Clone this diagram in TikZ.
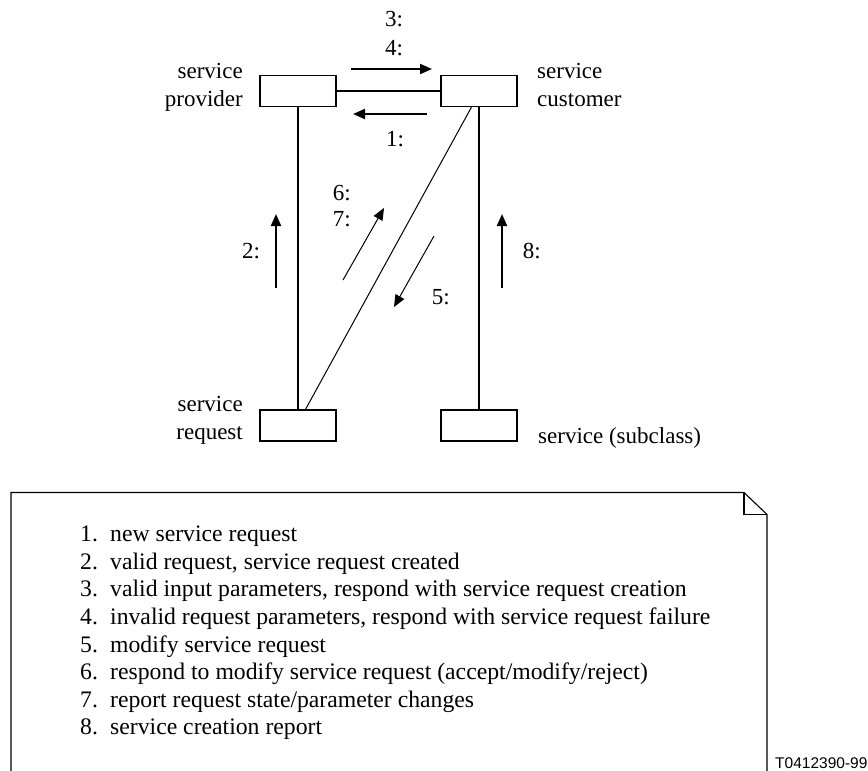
\documentclass[tikz,border=0pt]{standalone}
\usepackage{fontspec}
\setmainfont{Liberation Serif}
\newfontfamily\figsans{Liberation Sans}
\usetikzlibrary{arrows.meta}
\begin{document}
\begin{tikzpicture}[x=1pt,y=-1pt,
  every node/.style={font=\fontsize{23}{27.6}\selectfont, inner sep=0pt},
  objbox/.style={draw, line width=1.2pt, minimum width=76pt, minimum height=31pt},
  link/.style={line width=2pt},
  thinlink/.style={line width=1pt},
  msg/.style={line width=2pt, -{Triangle[length=12pt,width=10pt]}},
  thinmsg/.style={line width=1pt, -{Triangle[length=12pt,width=10pt]}},
  lbl/.style={anchor=base west},
  itemtext/.style={anchor=base west, font=\fontsize{23.7}{27.6}\selectfont},
  notebox/.style={line width=1.1pt},
]
\useasboundingbox (0,0) rectangle (868,771);

% object boxes
\node[objbox] (prov) at (298,91) {};
\node[objbox] (cust) at (479,91) {};
\node[objbox] (req)  at (298,425.5) {};
\node[objbox] (sub)  at (479,425.5) {};

% object names (anchored on the baseline of the last line)
\node[anchor=base east, align=right] (provname) at (243,106) {service\\provider};
\node[anchor=base west, align=left] (custname) at (537,106) {service\\customer};
\node[anchor=base east, align=right] (reqname) at (243,439) {service\\request};
\node[anchor=base west] (subname) at (538,443) {service (subclass)};

% associations
\draw[link] (prov.east) -- (cust.west);
\draw[link] (prov.south) -- (req.north);
\draw[link] (cust.south) -- (sub.north);
\draw[thinlink] ([xshift=-7.5pt]cust.south) -- ([xshift=7.5pt]req.north);

% messages
\coordinate (m34s) at (351,69);  \coordinate (m34e) at (432,69);
\coordinate (m1s)  at (427,114); \coordinate (m1e)  at (353,114);
\coordinate (m2s)  at (276,288); \coordinate (m2e)  at (276,214);
\coordinate (m8s)  at (502,288); \coordinate (m8e)  at (502,214);
\coordinate (m67s) at (343,280); \coordinate (m67e) at (384,208);
\coordinate (m5s)  at (434,236); \coordinate (m5e)  at (394,307);
\draw[msg] (m34s) -- (m34e);
\draw[msg] (m1s) -- (m1e);
\draw[msg] (m2s) -- (m2e);
\draw[msg] (m8s) -- (m8e);
\draw[thinmsg] (m67s) -- (m67e);
\draw[thinmsg] (m5s) -- (m5e);

% message numbers
\node[lbl] (l3) at (385,26.7) {3:};
\node[lbl] (l4) at (385,55) {4:};
\node[lbl] (l1) at (386,146.7) {1:};
\node[lbl] (l2) at (242,258.3) {2:};
\node[lbl] (l8) at (522.7,258.3) {8:};
\node[lbl] (l6) at (332.7,200) {6:};
\node[lbl] (l7) at (332.7,226.7) {7:};
\node[lbl] (l5) at (431.7,304) {5:};

% legend note with folded corner
\draw[notebox] (11,771) -- (11,492.5) -- (744,492.5) -- (767,514.5) -- (767,771);
\draw[notebox] (744,492.5) -- (744,514.5) -- (767,514.5);

\foreach \i/\t in {
  1/{new service request},
  2/{valid request, service request created},
  3/{valid input parameters, respond with service request creation},
  4/{invalid request parameters, respond with service request failure},
  5/{modify service request},
  6/{respond to modify service request (accept/modify/reject)},
  7/{report request state/parameter changes},
  8/{service creation report}}
{
  \node[itemtext] (num\i) at (80,{541.7+27.6*(\i-1)}) {\i.};
  \node[itemtext] (item\i) at (110,{541.7+27.6*(\i-1)}) {\t};
}

\node[anchor=base west, font=\figsans\fontsize{15.5}{18}\selectfont] (figid) at (775,768) {T0412390-99};
\end{tikzpicture}
\end{document}
